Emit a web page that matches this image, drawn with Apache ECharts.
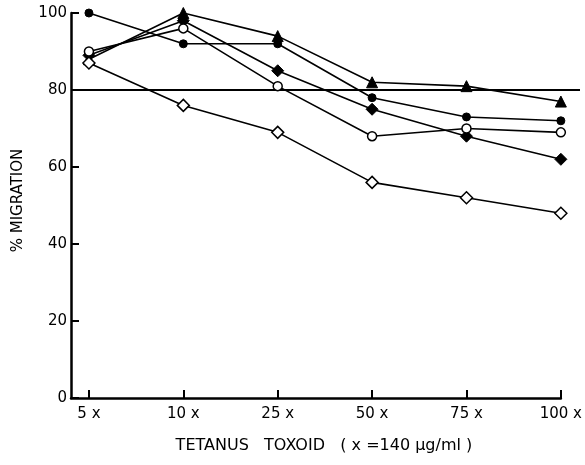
<!DOCTYPE html>
<html><head><meta charset="utf-8">
<script src="https://cdn.jsdelivr.net/npm/echarts@6/dist/echarts.min.js"></script>
<style>html,body{margin:0;padding:0;background:#fff}#c{width:585px;height:465px}</style>
</head><body><div id="c"></div>
<script>
const categories = ['5 x', '10 x', '25 x', '50 x', '75 x', '100 x'];
const yTicks = [0, 20, 40, 60, 80, 100];
const filledCircle = [100, 92, 92, 78, 73, 72];
const filledTriangle = [88, 100, 94, 82, 81, 77];
const filledDiamond = [89, 98, 85, 75, 68, 62];
const openCircle = [90, 96, 81, 68, 70, 69];
const openDiamond = [87, 76, 69, 56, 52, 48];
const refLevel = 80;

const FONT = 'DejaVu Sans';
const pts = arr => arr.map((v, i) => [i, v]);
function mk(name, data, symbol, size, filled) {
  return {
    type: 'line', name, data: pts(data), xAxisIndex: 0, yAxisIndex: 0,
    symbol, symbolSize: size, showSymbol: true, animation: false,
    lineStyle: { color: '#000', width: 1.6 },
    itemStyle: filled ? { color: '#000', borderColor: '#000', borderWidth: 1 }
                      : { color: '#fff', borderColor: '#000', borderWidth: 1.5 },
    z: filled ? 3 : 4
  };
}
const chart = echarts.init(document.getElementById('c'), null, { renderer: 'canvas' });
chart.setOption({
  backgroundColor: '#fff',
  animation: false,
  textStyle: { fontFamily: FONT, color: '#000' },
  grid: [
    { left: 71, right: 20, top: 13, bottom: 67 },
    { left: 71, right: 5, top: 13, bottom: 67 }
  ],
  xAxis: [
    {
      type: 'value', gridIndex: 0, min: -0.19, max: 5,
      name: 'TETANUS   TOXOID   ( x =140 μg/ml )', nameLocation: 'middle', nameGap: 40,
      nameTextStyle: { fontFamily: FONT, fontSize: 16, color: '#000', padding: [0, 0, 0, 16] },
      splitLine: { show: false },
      axisLine: { show: true, onZero: false, lineStyle: { color: '#000', width: 2.5 } },
      axisTick: { show: true, inside: true, length: 8, customValues: categories.map((c, i) => i), lineStyle: { color: '#000', width: 2 } },
      axisLabel: { customValues: categories.map((c, i) => i), formatter: v => categories[Math.round(v)] || '', fontFamily: FONT, fontSize: 15, color: '#000', margin: 9 }
    },
    { type: 'value', gridIndex: 1, min: 0, max: 1, show: false }
  ],
  yAxis: [
    {
      type: 'value', gridIndex: 0, min: 0, max: 100, interval: 20,
      name: '% MIGRATION', nameLocation: 'middle', nameGap: 45,
      nameTextStyle: { fontFamily: FONT, fontSize: 15, color: '#000', padding: [0, 0, 0, 10] },
      splitLine: { show: false },
      axisLine: { show: true, onZero: false, lineStyle: { color: '#000', width: 2.5 } },
      axisTick: { show: true, inside: true, length: 8, lineStyle: { color: '#000', width: 2 } },
      axisLabel: { fontFamily: FONT, fontSize: 15, color: '#000', margin: 4,
        formatter: v => yTicks.includes(v) ? String(v) : '' }
    },
    { type: 'value', gridIndex: 1, min: 0, max: 100, show: false }
  ],
  series: [
    {
      type: 'line', name: 'ref', xAxisIndex: 1, yAxisIndex: 1,
      data: [[0, refLevel], [1, refLevel]], symbol: 'none',
      lineStyle: { color: '#000', width: 2 }, z: 2, animation: false
    },
    mk('openDiamond', openDiamond, 'diamond', 12, false),
    mk('openCircle', openCircle, 'circle', 9, false),
    mk('filledDiamond', filledDiamond, 'diamond', 12, true),
    mk('filledCircle', filledCircle, 'circle', 8, true),
    mk('filledTriangle', filledTriangle, 'triangle', 11, true)
  ]
});
</script></body></html>
